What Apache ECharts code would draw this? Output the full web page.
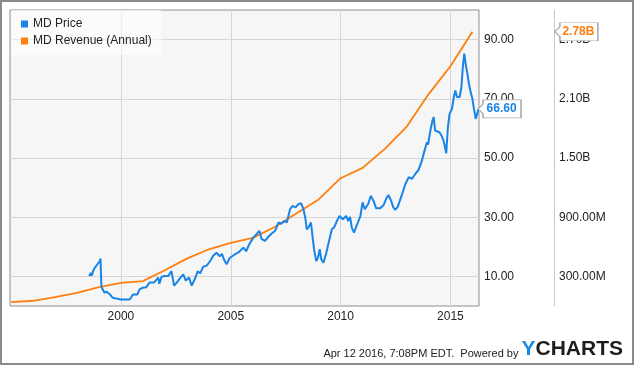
<!DOCTYPE html>
<html>
<head>
<meta charset="utf-8">
<script src="https://cdn.jsdelivr.net/npm/echarts@6/dist/echarts.min.js"></script>
<style>
html,body{margin:0;padding:0;background:#fff;}
#chart{width:635px;height:366px;}
</style>
</head>
<body>
<div id="chart"></div>
<script>
// ---- data (decimal years) ----
const priceDates = [
1998.56,1998.62,1998.68,1998.74,1998.81,1998.87,1998.93,1999.04,1999.07,1999.11,1999.15,1999.25,1999.35,1999.5,1999.62,1999.8,
2000.0,2000.2,2000.4,2000.55,2000.75,2000.85,2001.0,2001.15,2001.3,2001.5,2001.7,2001.75,2001.85,2002.0,2002.15,2002.3,2002.42,
2002.55,2002.7,2002.84,2002.95,2003.1,2003.22,2003.37,2003.5,2003.6,2003.75,2003.9,2004.06,2004.2,2004.35,2004.5,2004.6,2004.7,
2004.81,2004.95,2005.2,2005.35,2005.57,2005.7,2005.85,2006.03,2006.2,2006.3,2006.4,2006.56,2006.7,2006.85,2007.02,2007.17,
2007.3,2007.45,2007.55,2007.7,2007.8,2007.95,2008.08,2008.2,2008.3,2008.39,2008.46,2008.55,2008.65,2008.72,2008.79,2008.89,
2008.97,2009.05,2009.12,2009.22,2009.35,2009.49,2009.6,2009.7,2009.83,2009.95,2010.1,2010.25,2010.35,2010.43,2010.51,2010.61,
2010.72,2010.9,2011.0,2011.1,2011.25,2011.38,2011.5,2011.62,2011.8,2011.95,2012.1,2012.18,2012.3,2012.4,2012.49,2012.6,2012.8,
2012.95,2013.1,2013.25,2013.4,2013.55,2013.7,2013.82,2013.93,2013.98,2014.1,2014.18,2014.24,2014.3,2014.39,2014.5,2014.6,
2014.7,2014.81,2014.88,2014.96,2015.07,2015.15,2015.22,2015.3,2015.42,2015.5,2015.57,2015.63,2015.68,2015.72,2015.77,2015.84,
2015.92,2016.0,2016.07,2016.15,2016.28
];
const priceValues = [
10.1,11.2,10.3,12.0,12.9,12.5,14.1,15.2,16.0,6.7,5.9,4.5,4.8,3.9,2.8,2.5,
2.2,2.2,2.2,3.9,3.9,5.6,6.2,6.3,7.9,7.9,9.6,7.5,9.9,10.1,10.1,11.8,6.9,
8.0,9.5,10.7,8.6,9.6,6.9,9.2,11.8,11.0,13.3,13.6,15.2,17.0,18.0,16.8,17.6,15.5,
14.1,16.2,17.5,18.1,19.7,18.5,21.0,23.1,24.5,25.4,22.7,22.0,23.3,24.4,25.4,28.2,
27.8,28.7,28.2,32.7,33.8,33.3,34.4,34.7,33.0,29.9,25.9,26.7,28.2,28.2,19.2,15.2,
16.3,19.2,15.8,14.6,18.0,22.5,25.9,26.5,28.7,30.4,29.3,30.4,28.7,30.1,26.5,24.8,
27.0,30.4,35.0,32.7,34.4,37.2,35.5,33.0,33.0,34.0,36.6,37.5,35.5,33.3,32.5,33.5,37.8,
41.2,43.5,43.0,44.6,46.0,49.1,52.5,55.3,54.5,59.8,62.6,63.8,59.3,58.7,58.7,57.5,
55.5,51.6,60.0,64.9,66.6,70.5,72.8,70.6,70.6,74.0,81.3,85.3,82.4,80.5,78.5,75.1,
72.3,70.0,66.6,63.2,66.6
];
const revenueDates = [1995,1996,1997,1998,1999,2000,2001,2002,2003,2004,2005,2006,2007,2008,2009,2010,2011,2012,2013,2014,2015,2016];
const revenueValues = [39e6,53e6,89e6,134e6,192e6,234e6,252e6,362e6,480e6,575e6,640e6,690e6,800e6,940e6,1080e6,1295e6,1400e6,1590e6,1815e6,2145e6,2430e6,2780e6];
const yearTicks = [2000,2005,2010,2015];
const priceTicks = [10,30,50,70,90];
const revenueTicks = [300e6,900e6,1500e6,2100e6,2700e6];
const seriesNames = ['MD Price','MD Revenue (Annual)'];
const lastPriceLabel = '66.60';
const lastRevenueLabel = '2.78B';
const footerText = 'Apr 12 2016, 7:08PM EDT.  Powered by ';

// ---- build ----
const FONT = '"Liberation Sans", Arial, sans-serif';
const BLUE = '#1884e6';
const ORANGE = '#ff7f0e';
const priceData = priceDates.map((d,i)=>[d, priceValues[i]]);
const revenueData = revenueDates.map((d,i)=>[d, revenueValues[i]]);
const lastP = priceData[priceData.length-1];
const lastR = revenueData[revenueData.length-1];
const calloutPath = 'path://M0,9 L5,4 L5,0 L43,0 L43,18 L5,18 L5,14 Z';

function fmtRev(v){
  if (v >= 1e9) return (v/1e9).toFixed(2)+'B';
  return (v/1e6).toFixed(2)+'M';
}

const chart = echarts.init(document.getElementById('chart'), null, {renderer:'canvas'});
chart.setOption({
  animation:false,
  backgroundColor:'#ffffff',
  textStyle:{fontFamily:FONT},
  title:{
    right:12, bottom:6, padding:0,
    text:'{t|'+footerText+'}{y|Y}{c|CHARTS}',
    textStyle:{fontWeight:'normal', rich:{
      t:{fontSize:11,fontWeight:'normal',color:'#222',fontFamily:FONT,verticalAlign:'bottom',padding:[0,0,1,0]},
      y:{fontSize:21,fontWeight:'bold',color:'#1a8ae6',fontFamily:FONT,verticalAlign:'bottom'},
      c:{fontSize:21,fontWeight:'bold',color:'#1d1d1d',fontFamily:FONT,verticalAlign:'bottom'}
    }}
  },
  graphic:[{
    type:'rect', z:100, silent:true,
    shape:{x:1,y:1,width:632,height:363},
    style:{fill:'none',stroke:'#8a8a8a',lineWidth:2}
  }],
  legend:{
    left:11, top:10, orient:'vertical',
    backgroundColor:'rgba(255,255,255,0.55)',
    padding:[7,10,7,10],
    itemWidth:7, itemHeight:7, itemGap:3,
    icon:'rect',
    textStyle:{fontSize:12,color:'#222',fontFamily:FONT,lineHeight:14},
    data:seriesNames
  },
  grid:{
    left:10, top:10, right:156, bottom:60,
    show:true, backgroundColor:'#f6f6f6', borderColor:'#8e8e8e', borderWidth:1
  },
  xAxis:{
    type:'value', min:1994.95, max:2016.3,
    axisLine:{show:false}, axisTick:{show:false, customValues:yearTicks},
    axisLabel:{customValues:yearTicks, margin:5, fontSize:12, color:'#222', fontFamily:FONT, formatter:v=>String(Math.round(v))},
    splitLine:{show:true, lineStyle:{color:'#d6d6d6', width:1}}
  },
  yAxis:[{
    type:'value', position:'right', min:0, max:100,
    axisLine:{show:false}, axisTick:{show:false, customValues:priceTicks},
    axisLabel:{customValues:priceTicks, margin:5, fontSize:12, color:'#222', fontFamily:FONT, formatter:v=>v.toFixed(2)},
    splitLine:{show:true, lineStyle:{color:'#d6d6d6', width:1}}
  },{
    type:'value', position:'right', offset:75, min:0, max:3e9,
    axisLine:{show:true, lineStyle:{color:'#c8c8c8', width:1}}, axisTick:{show:false, customValues:revenueTicks},
    axisLabel:{customValues:revenueTicks, margin:5, fontSize:12, color:'#222', fontFamily:FONT, formatter:fmtRev},
    splitLine:{show:false}
  }],
  series:[{
    name:seriesNames[0], type:'line', xAxisIndex:0, yAxisIndex:0,
    data:priceData, showSymbol:false, z:3,
    lineStyle:{color:BLUE, width:2}, itemStyle:{color:BLUE},
    markPoint:{
      silent:true, symbol:calloutPath, symbolSize:[43,18], symbolOffset:[21,0],
      itemStyle:{color:'#ffffff', borderColor:'#a8a8a8', borderWidth:1},
      label:{show:true, position:'inside', offset:[2,0], formatter:lastPriceLabel, color:BLUE, fontWeight:'bold', fontSize:12, fontFamily:FONT},
      data:[{coord:lastP}]
    }
  },{
    name:seriesNames[1], type:'line', xAxisIndex:0, yAxisIndex:1,
    data:revenueData, showSymbol:false, z:2,
    lineStyle:{color:ORANGE, width:1.8}, itemStyle:{color:ORANGE},
    markPoint:{
      silent:true, symbol:calloutPath, symbolSize:[43,18], symbolOffset:[104,0],
      itemStyle:{color:'#ffffff', borderColor:'#a8a8a8', borderWidth:1},
      label:{show:true, position:'inside', offset:[2,0], formatter:lastRevenueLabel, color:ORANGE, fontWeight:'bold', fontSize:12, fontFamily:FONT},
      data:[{coord:lastR}]
    }
  }]
});
</script>
</body>
</html>
